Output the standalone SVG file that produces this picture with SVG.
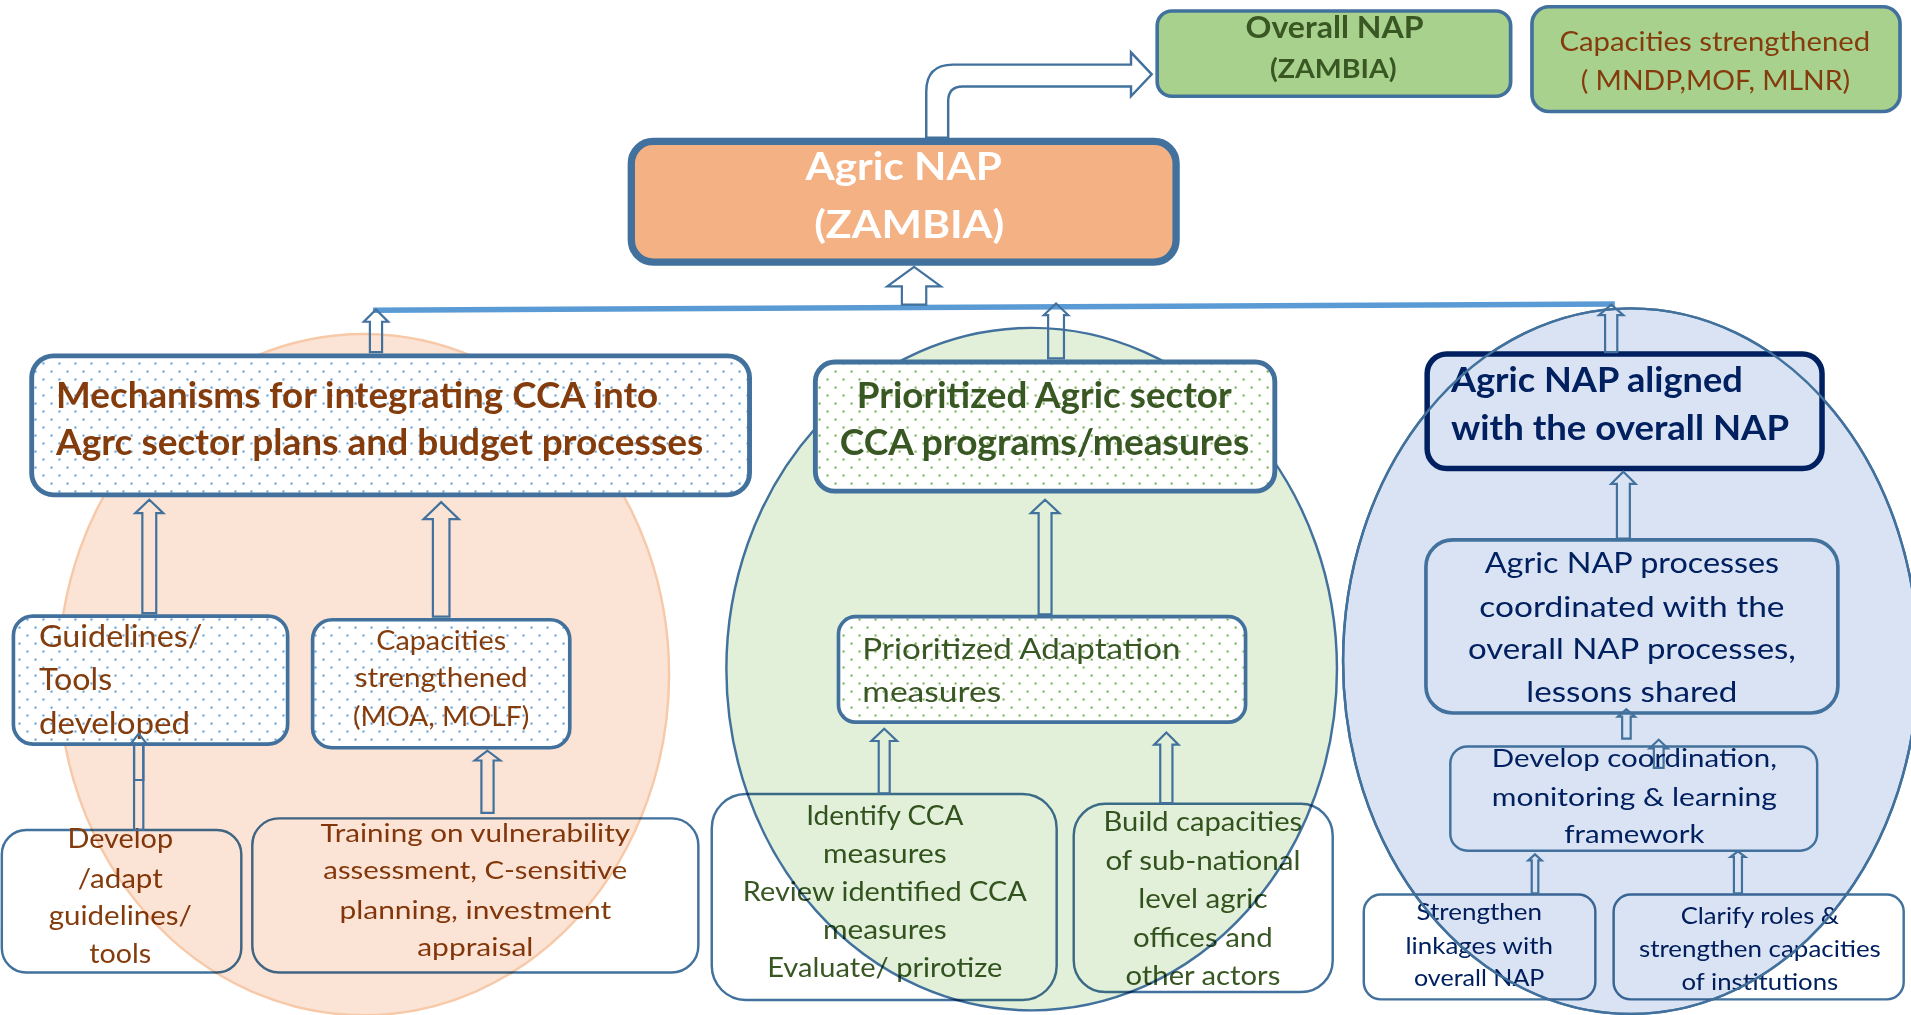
<svg xmlns="http://www.w3.org/2000/svg" width="1911" height="1015" viewBox="0 0 1911 1015">
<defs>
<style>
text{font-family:Lato,"Liberation Sans",sans-serif;}
.b{font-weight:bold;}
.br{fill:#843C0C;}
.gr{fill:#385723;}
.nv{fill:#002060;}
.wt{fill:#ffffff;}
.m{text-anchor:middle;}
.box{stroke:#41719C;}
.arr{fill:none;stroke:#41719C;stroke-width:1.8;stroke-linejoin:miter;}
.tint{mix-blend-mode:multiply;}
</style>
<pattern id="dotB" width="13.13" height="13.13" patternUnits="userSpaceOnUse"><rect width="13.13" height="13.13" fill="#ffffff"/><rect x="2" y="2" width="1.7" height="1.7" fill="#5B9BD5"/><rect x="8.56" y="8.56" width="1.7" height="1.7" fill="#5B9BD5"/></pattern>
<pattern id="dotG" width="13.13" height="13.13" patternUnits="userSpaceOnUse"><rect width="13.13" height="13.13" fill="#ffffff"/><rect x="2" y="2" width="1.7" height="1.7" fill="#70AD47"/><rect x="8.56" y="8.56" width="1.7" height="1.7" fill="#70AD47"/></pattern>
</defs>
<rect width="1911" height="1015" fill="#ffffff"/>
<g transform="scale(1.21875)">

<!-- bottom activity boxes (under the tinted regions) -->
<g id="develop-adapt">
<rect x="1.5" y="681" width="196.5" height="117" rx="20" fill="#ffffff" class="box" stroke-width="2"/>
<text class="br m" font-size="22" x="98.7" y="696" textLength="86.6" lengthAdjust="spacingAndGlyphs">Develop</text>
<text class="br m" font-size="22" x="98.7" y="728.6" textLength="69.7" lengthAdjust="spacingAndGlyphs">/adapt</text>
<text class="br m" font-size="22" x="98.7" y="759" textLength="117.5" lengthAdjust="spacingAndGlyphs">guidelines/</text>
<text class="br m" font-size="22" x="98.7" y="790" textLength="50.8" lengthAdjust="spacingAndGlyphs">tools</text>
</g>
<g id="training">
<rect x="207" y="671.5" width="366" height="126.5" rx="22" fill="#ffffff" class="box" stroke-width="2"/>
<text class="br m" font-size="21" x="390" y="691" textLength="254" lengthAdjust="spacingAndGlyphs">Training on vulnerability</text>
<text class="br m" font-size="21" x="390" y="721" textLength="249.4" lengthAdjust="spacingAndGlyphs">assessment, C-sensitive</text>
<text class="br m" font-size="21" x="390" y="753.7" textLength="223" lengthAdjust="spacingAndGlyphs">planning, investment</text>
<text class="br m" font-size="21" x="390" y="784.5" textLength="95.3" lengthAdjust="spacingAndGlyphs">appraisal</text>
</g>
<g id="identify">
<rect x="584" y="651.5" width="283" height="169" rx="28" fill="#ffffff" class="box" stroke-width="2"/>
<text class="gr m" font-size="22" x="726" y="676.7" textLength="129" lengthAdjust="spacingAndGlyphs">Identify CCA</text>
<text class="gr m" font-size="22" x="726" y="708" textLength="101.5" lengthAdjust="spacingAndGlyphs">measures</text>
<text class="gr m" font-size="22" x="726" y="739" textLength="233" lengthAdjust="spacingAndGlyphs">Review identified CCA</text>
<text class="gr m" font-size="22" x="726" y="770.5" textLength="101.5" lengthAdjust="spacingAndGlyphs">measures</text>
<text class="gr m" font-size="22" x="726" y="801.7" textLength="193" lengthAdjust="spacingAndGlyphs">Evaluate/ prirotize</text>
</g>
<g id="build-capacities">
<rect x="881" y="659.5" width="212.5" height="154.5" rx="26" fill="#ffffff" class="box" stroke-width="2"/>
<text class="gr m" font-size="22" x="987" y="682" textLength="163" lengthAdjust="spacingAndGlyphs">Build capacities</text>
<text class="gr m" font-size="22" x="987" y="714" textLength="160" lengthAdjust="spacingAndGlyphs">of sub-national</text>
<text class="gr m" font-size="22" x="987" y="745" textLength="106" lengthAdjust="spacingAndGlyphs">level agric</text>
<text class="gr m" font-size="22" x="987" y="777" textLength="114.5" lengthAdjust="spacingAndGlyphs">offices and</text>
<text class="gr m" font-size="22" x="987" y="808" textLength="127" lengthAdjust="spacingAndGlyphs">other actors</text>
</g>
<g id="strengthen-linkages">
<rect x="1119" y="734" width="190" height="86" rx="14" fill="#ffffff" class="box" stroke-width="2"/>
<text class="nv m" font-size="19.5" x="1213.7" y="755" textLength="103" lengthAdjust="spacingAndGlyphs">Strengthen</text>
<text class="nv m" font-size="19.5" x="1213.7" y="782.5" textLength="121" lengthAdjust="spacingAndGlyphs">linkages with</text>
<text class="nv m" font-size="19.5" x="1213.7" y="809" textLength="107" lengthAdjust="spacingAndGlyphs">overall NAP</text>
</g>
<g id="clarify-roles">
<rect x="1324" y="734" width="238" height="86" rx="14" fill="#ffffff" class="box" stroke-width="2"/>
<text class="nv m" font-size="19.5" x="1444" y="758" textLength="130" lengthAdjust="spacingAndGlyphs">Clarify roles &amp;</text>
<text class="nv m" font-size="19.5" x="1444" y="785" textLength="198.5" lengthAdjust="spacingAndGlyphs">strengthen capacities</text>
<text class="nv m" font-size="19.5" x="1444" y="812" textLength="128.6" lengthAdjust="spacingAndGlyphs">of institutions</text>
</g>

<!-- tinted regions -->
<g id="regions">
<ellipse class="tint" cx="298.5" cy="553.5" rx="250.5" ry="279.5" fill="#FBE4D5" stroke="#F7C9A8" stroke-width="2"/>
<ellipse class="tint" cx="846.5" cy="549" rx="250.5" ry="280" fill="#E2F0D9" stroke="#41719C" stroke-width="2"/>
<ellipse class="tint" cx="1338" cy="542.5" rx="236" ry="289.5" fill="#DAE3F3" stroke="#41719C" stroke-width="2"/>
</g>

<g id="agric-nap-aligned">
<rect x="1171" y="290.5" width="324" height="94" rx="16" fill="#DAE3F3" stroke="#002060" stroke-width="4.5"/>
<text class="nv b" font-size="28" x="1190.5" y="321.4" textLength="239.5" lengthAdjust="spacingAndGlyphs">Agric NAP aligned</text>
<text class="nv b" font-size="28" x="1190.5" y="361" textLength="277.5" lengthAdjust="spacingAndGlyphs">with the overall NAP</text>
</g>
<ellipse cx="1338" cy="542.5" rx="236" ry="289.5" fill="none" stroke="#41719C" stroke-width="2"/>

<!-- connectors -->
<g id="connectors">
<path d="M306,254.5 L1325,249.5" stroke="#5B9BD5" stroke-width="4.5" fill="none"/>
<path d="M760,113 L760,75 Q760,53 782,53 L928,53 L928,43 L945,61 L928,79 L928,71 L790,71 Q778,71 778,83 L778,113 Z" fill="#ffffff" stroke="#41719C" stroke-width="2"/>
<path class="arr" style="fill:#ffffff" d="M750,219 L772,235 L760,235 L760,250 L740,250 L740,235 L728,235 Z"/>
<path class="arr" d="M308.5,254 L318.5,264 L313.5,264 L313.5,289 L303.5,289 L303.5,264 L298.5,264 Z"/>
<path class="arr" d="M866.5,249 L876.5,258.5 L873,258.5 L873,294 L860,294 L860,258.5 L856.5,258.5 Z"/>
<path class="arr" d="M1322,250 L1332,258.5 L1327,258.5 L1327,289 L1317,289 L1317,258.5 L1312,258.5 Z"/>
<path class="arr" d="M122.5,410 L134,421 L128.2,421 L128.2,503 L116.8,503 L116.8,421 L111,421 Z"/>
<path class="arr" d="M362,412 L376.5,426 L368.8,426 L368.8,506 L355.2,506 L355.2,426 L347.5,426 Z"/>
<path class="arr" d="M113.8,602 L120.1,610 L117.6,610 L117.6,681 L110,681 L110,610 L107.5,610 Z"/>
<path class="arr" d="M400,616 L410.5,624 L405,624 L405,667 L395,667 L395,624 L389.5,624 Z"/>
<path class="arr" d="M857.5,410 L869.2,421 L862.8,421 L862.8,504 L852.2,504 L852.2,421 L845.8,421 Z"/>
<path class="arr" d="M725.5,598 L736,608 L730,608 L730,651 L721,651 L721,608 L715,608 Z"/>
<path class="arr" d="M957,601 L967,611 L962,611 L962,659 L952,659 L952,611 L947,611 Z"/>
<path class="arr" d="M1332,387 L1342,397 L1337.3,397 L1337.3,442 L1326.7,442 L1326.7,397 L1322,397 Z"/>
<path class="arr" d="M1334.5,582 L1341.5,588 L1338,588 L1338,606 L1331,606 L1331,588 L1327.5,588 Z"/>
<path class="arr" d="M1361,607 L1368.5,614 L1365,614 L1365,630 L1357,630 L1357,614 L1353.5,614 Z"/>
<path class="arr" d="M1259.5,701 L1265,706 L1262.2,706 L1262.2,733 L1256.8,733 L1256.8,706 L1254,706 Z"/>
<path class="arr" d="M1426,698.5 L1432,703 L1429.3,703 L1429.3,733 L1422.7,733 L1422.7,703 L1420,703 Z"/>
</g>

<g id="overall-nap">
<rect x="949.5" y="9" width="290" height="70" rx="12" fill="#A9D18E" class="box" stroke-width="3"/>
<text class="gr b m" font-size="24.5" x="1095" y="31.5" textLength="146" lengthAdjust="spacingAndGlyphs">Overall NAP</text>
<text class="gr b m" font-size="21.5" x="1094" y="64" textLength="104" lengthAdjust="spacingAndGlyphs">(ZAMBIA)</text>
</g>
<g id="capacities-national">
<rect x="1257" y="5.5" width="302" height="86" rx="14" fill="#A9D18E" class="box" stroke-width="3"/>
<text class="br m" font-size="21.5" x="1407" y="41.5" textLength="255" lengthAdjust="spacingAndGlyphs">Capacities strengthened</text>
<text class="br m" font-size="21.5" x="1407.5" y="73.5" textLength="221" lengthAdjust="spacingAndGlyphs">( MNDP,MOF, MLNR)</text>
</g>
<g id="agric-nap">
<rect x="518" y="116" width="447" height="99" rx="18" fill="#F4B183" class="box" stroke-width="6"/>
<text class="wt b m" font-size="32" x="741.5" y="147.7" textLength="161" lengthAdjust="spacingAndGlyphs">Agric NAP</text>
<text class="wt b m" font-size="32" x="746" y="195.5" textLength="156" lengthAdjust="spacingAndGlyphs">(ZAMBIA)</text>
</g>
<g id="mechanisms">
<rect x="26" y="292" width="589" height="114" rx="18" fill="url(#dotB)" class="box" stroke-width="4"/>
<text class="br b" font-size="29" x="46" y="335" textLength="494" lengthAdjust="spacingAndGlyphs">Mechanisms for integrating CCA into</text>
<text class="br b" font-size="29" x="46" y="373" textLength="531" lengthAdjust="spacingAndGlyphs">Agrc sector plans and budget processes</text>
</g>
<g id="prioritized-agric">
<rect x="669" y="297" width="377" height="106" rx="16" fill="url(#dotG)" class="box" stroke-width="4"/>
<text class="gr b" font-size="29" x="703" y="335" textLength="307.6" lengthAdjust="spacingAndGlyphs">Prioritized Agric sector</text>
<text class="gr b" font-size="29" x="689" y="373" textLength="336" lengthAdjust="spacingAndGlyphs">CCA programs/measures</text>
</g>
<g id="guidelines">
<rect x="11" y="505.5" width="225" height="105" rx="16" fill="url(#dotB)" class="box" stroke-width="3"/>
<text class="br" font-size="25" x="32" y="531" textLength="134" lengthAdjust="spacingAndGlyphs">Guidelines/</text>
<text class="br" font-size="25" x="32" y="566" textLength="60" lengthAdjust="spacingAndGlyphs">Tools</text>
<text class="br" font-size="25" x="32" y="602" textLength="124" lengthAdjust="spacingAndGlyphs">developed</text>
</g>
<path class="arr" d="M113.8,602 L120.1,610 L117.6,610 L117.6,640 L110,640 L110,610 L107.5,610 Z"/>
<g id="capacities-moa">
<rect x="256.5" y="508.5" width="211" height="105" rx="16" fill="url(#dotB)" class="box" stroke-width="3"/>
<text class="br m" font-size="22" x="362" y="533" textLength="106.5" lengthAdjust="spacingAndGlyphs">Capacities</text>
<text class="br m" font-size="22" x="362" y="564" textLength="142" lengthAdjust="spacingAndGlyphs">strengthened</text>
<text class="br m" font-size="22" x="362" y="595.5" textLength="144.7" lengthAdjust="spacingAndGlyphs">(MOA, MOLF)</text>
</g>
<g id="prioritized-adaptation">
<rect x="688" y="506" width="334" height="86.5" rx="14" fill="url(#dotG)" class="box" stroke-width="3"/>
<text class="gr" font-size="23" x="707.6" y="541" textLength="261" lengthAdjust="spacingAndGlyphs">Prioritized Adaptation</text>
<text class="gr" font-size="23" x="707.6" y="576" textLength="113.9" lengthAdjust="spacingAndGlyphs">measures</text>
</g>
<g id="agric-nap-processes">
<rect x="1170" y="443" width="338" height="142" rx="22" fill="none" class="box" stroke-width="3"/>
<text class="nv m" font-size="23" x="1339" y="470" textLength="241.6" lengthAdjust="spacingAndGlyphs">Agric NAP processes</text>
<text class="nv m" font-size="23" x="1339" y="506" textLength="250.4" lengthAdjust="spacingAndGlyphs">coordinated with the</text>
<text class="nv m" font-size="23" x="1339" y="541" textLength="269" lengthAdjust="spacingAndGlyphs">overall NAP processes,</text>
<text class="nv m" font-size="23" x="1339" y="576" textLength="173.2" lengthAdjust="spacingAndGlyphs">lessons shared</text>
</g>
<g id="develop-coordination">
<rect x="1190" y="612.5" width="301" height="85.5" rx="14" fill="none" class="box" stroke-width="2"/>
<text class="nv m" font-size="21" x="1341" y="629" textLength="234" lengthAdjust="spacingAndGlyphs">Develop coordination,</text>
<text class="nv m" font-size="21" x="1341" y="661" textLength="234" lengthAdjust="spacingAndGlyphs">monitoring &amp; learning</text>
<text class="nv m" font-size="21" x="1341" y="692" textLength="114.9" lengthAdjust="spacingAndGlyphs">framework</text>
</g>
</g>
</svg>
